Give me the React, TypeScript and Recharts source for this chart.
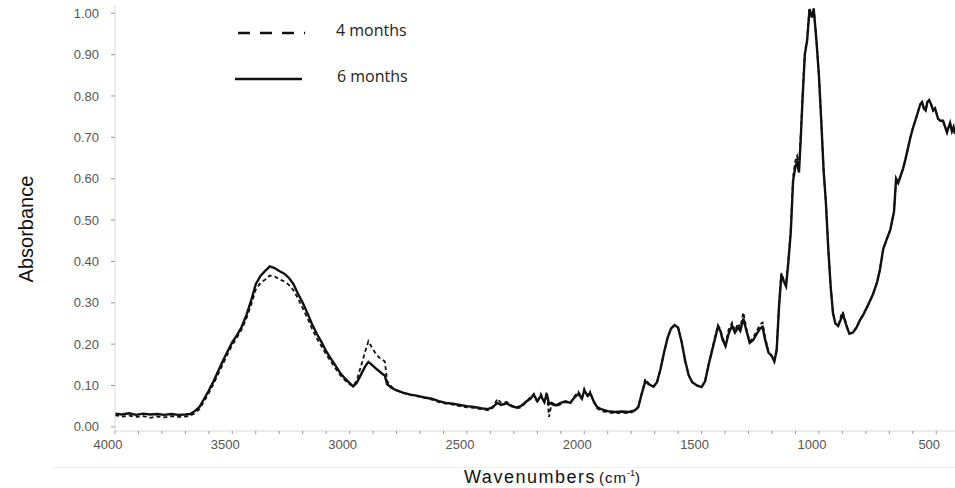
import React from 'react';
import { LineChart, Line, XAxis, YAxis, Label } from 'recharts';

// wavenumbers (cm-1), high to low
const wavenumbers = [
  4000, 3970, 3940, 3910, 3880, 3850, 3820, 3790, 3760, 3730, 3700, 3680, 3660, 3640, 3620, 3600,
  3580, 3560, 3540, 3520, 3500, 3480, 3460, 3440, 3420, 3400, 3380, 3360, 3340, 3320, 3300, 3280,
  3260, 3240, 3220, 3200, 3180, 3160, 3140, 3120, 3100, 3080, 3060, 3040, 3020, 3000, 2985, 2970,
  2950, 2935, 2920, 2905, 2890, 2875, 2860, 2850, 2840, 2820, 2800, 2770, 2740, 2710, 2680, 2650,
  2620, 2590, 2560, 2530, 2500, 2470, 2440, 2410, 2390, 2370, 2355, 2330, 2310, 2290, 2270, 2250,
  2230, 2215, 2200, 2185, 2170, 2160, 2150, 2140, 2120, 2100, 2080, 2060, 2040, 2025, 2010, 2000,
  1985, 1975, 1960, 1945, 1925, 1900, 1870, 1840, 1810, 1785, 1770, 1755, 1740, 1725, 1705, 1690,
  1675, 1660, 1645, 1630, 1615, 1600, 1585, 1570, 1555, 1540, 1520, 1500, 1485, 1470, 1455, 1440,
  1430, 1420, 1410, 1398, 1385, 1370, 1358, 1345, 1335, 1322, 1310, 1295, 1280, 1265, 1250, 1240,
  1230, 1215, 1200, 1190, 1180, 1170, 1160, 1150, 1140, 1130, 1120, 1110, 1100, 1093, 1085, 1078,
  1070, 1060, 1050, 1040, 1030, 1022, 1010, 1000, 990, 980, 970, 960, 950, 940, 930, 918,
  905, 898, 890, 880, 870, 855, 840, 825, 810, 790, 770, 752, 740, 726, 710, 696,
  680, 671, 662, 650, 641, 632, 620, 610, 598, 585, 568, 560, 553, 545, 538, 530,
  522, 513, 505, 492, 482, 471, 462, 454, 447, 441, 433, 426, 420,
];

const sixMonths = [
  0.032, 0.030, 0.033, 0.029, 0.032, 0.030, 0.031, 0.029, 0.031, 0.029, 0.030, 0.031, 0.038, 0.048, 0.068, 0.088,
  0.110, 0.135, 0.160, 0.183, 0.205, 0.222, 0.242, 0.270, 0.305, 0.345, 0.365, 0.377, 0.388, 0.384, 0.377, 0.371,
  0.361, 0.346, 0.322, 0.300, 0.275, 0.248, 0.225, 0.205, 0.183, 0.165, 0.148, 0.130, 0.117, 0.106, 0.098, 0.106,
  0.128, 0.145, 0.157, 0.150, 0.142, 0.135, 0.128, 0.124, 0.103, 0.094, 0.088, 0.082, 0.078, 0.075, 0.071, 0.068,
  0.062, 0.058, 0.056, 0.053, 0.050, 0.048, 0.045, 0.043, 0.048, 0.058, 0.053, 0.057, 0.050, 0.047, 0.050, 0.060,
  0.068, 0.078, 0.062, 0.075, 0.060, 0.080, 0.055, 0.058, 0.052, 0.058, 0.062, 0.058, 0.072, 0.080, 0.068, 0.088,
  0.075, 0.082, 0.062, 0.048, 0.042, 0.038, 0.036, 0.037, 0.036, 0.040, 0.048, 0.080, 0.110, 0.103, 0.097, 0.108,
  0.140, 0.180, 0.215, 0.238, 0.246, 0.240, 0.205, 0.160, 0.125, 0.108, 0.100, 0.096, 0.110, 0.150, 0.185, 0.220,
  0.242, 0.232, 0.210, 0.195, 0.225, 0.245, 0.228, 0.240, 0.232, 0.262, 0.235, 0.203, 0.210, 0.225, 0.238, 0.242,
  0.212, 0.180, 0.170, 0.158, 0.185, 0.290, 0.368, 0.352, 0.340, 0.400, 0.470, 0.595, 0.630, 0.640, 0.615, 0.690,
  0.790, 0.900, 0.935, 1.010, 0.990, 1.010, 0.930, 0.850, 0.740, 0.620, 0.540, 0.430, 0.340, 0.275, 0.250, 0.244,
  0.262, 0.272, 0.258, 0.240, 0.225, 0.228, 0.240, 0.258, 0.272, 0.295, 0.320, 0.350, 0.380, 0.430, 0.455, 0.476,
  0.520, 0.600, 0.590, 0.610, 0.625, 0.645, 0.675, 0.700, 0.725, 0.748, 0.780, 0.785, 0.770, 0.765, 0.785, 0.790,
  0.780, 0.765, 0.770, 0.745, 0.740, 0.740, 0.725, 0.712, 0.725, 0.735, 0.715, 0.725, 0.708,
];

const fourMonths = [
  0.028, 0.025, 0.027, 0.024, 0.026, 0.022, 0.025, 0.023, 0.026, 0.024, 0.025, 0.027, 0.033, 0.043, 0.062, 0.082,
  0.104, 0.128, 0.152, 0.176, 0.198, 0.216, 0.236, 0.262, 0.295, 0.332, 0.348, 0.356, 0.366, 0.364, 0.357, 0.352,
  0.344, 0.331, 0.310, 0.287, 0.263, 0.237, 0.214, 0.195, 0.175, 0.158, 0.141, 0.125, 0.113, 0.103, 0.098, 0.112,
  0.150, 0.180, 0.207, 0.192, 0.178, 0.168, 0.162, 0.158, 0.110, 0.096, 0.089, 0.082, 0.077, 0.074, 0.070, 0.066,
  0.060, 0.056, 0.054, 0.050, 0.047, 0.046, 0.043, 0.040, 0.046, 0.068, 0.058, 0.060, 0.052, 0.045, 0.047, 0.058,
  0.072, 0.080, 0.058, 0.080, 0.062, 0.084, 0.024, 0.055, 0.050, 0.055, 0.060, 0.056, 0.075, 0.085, 0.070, 0.092,
  0.072, 0.085, 0.060, 0.045, 0.038, 0.035, 0.033, 0.034, 0.033, 0.038, 0.048, 0.082, 0.116, 0.105, 0.098, 0.108,
  0.140, 0.180, 0.215, 0.238, 0.246, 0.240, 0.205, 0.160, 0.125, 0.108, 0.100, 0.096, 0.112, 0.152, 0.188, 0.224,
  0.246, 0.236, 0.215, 0.198, 0.235, 0.252, 0.232, 0.250, 0.240, 0.277, 0.240, 0.206, 0.215, 0.232, 0.248, 0.252,
  0.220, 0.182, 0.172, 0.162, 0.190, 0.295, 0.372, 0.355, 0.342, 0.405, 0.478, 0.605, 0.645, 0.655, 0.625, 0.700,
  0.795, 0.905, 0.940, 1.012, 0.992, 1.012, 0.930, 0.850, 0.740, 0.620, 0.540, 0.430, 0.340, 0.275, 0.250, 0.244,
  0.270, 0.278, 0.262, 0.242, 0.226, 0.228, 0.240, 0.258, 0.272, 0.295, 0.320, 0.350, 0.380, 0.430, 0.455, 0.476,
  0.520, 0.600, 0.590, 0.610, 0.625, 0.645, 0.675, 0.700, 0.725, 0.748, 0.780, 0.785, 0.770, 0.765, 0.785, 0.790,
  0.780, 0.765, 0.770, 0.745, 0.740, 0.740, 0.725, 0.712, 0.725, 0.735, 0.715, 0.725, 0.708,
];

const yTicks = [0, 0.1, 0.2, 0.3, 0.4, 0.5, 0.6, 0.7, 0.8, 0.9, 1.0];
// every 100 cm-1, only multiples of 500 get a label
const xTicks = Array.from({ length: 36 }, (_, i) => 500 + i * 100);

const data = wavenumbers.map((wn, i) => ({
  wn,
  six: sixMonths[i],
  four: fourMonths[i],
}));

const axisFont = 'Liberation Sans, Arial, sans-serif';

const XTick = (props: any) => {
  const { x, y, payload } = props;
  if (payload.value % 500 !== 0) return <g />;
  return (
    <text x={x} y={y} dx={-7} dy="0.71em" textAnchor="middle" fill="#555" fontSize={13} fontFamily={axisFont}>
      {payload.value}
    </text>
  );
};

const XTitle = (props: any) => {
  const { viewBox } = props;
  const cx = viewBox.x + viewBox.width / 2 + 17;
  return (
    <text x={cx} y={483} textAnchor="middle" fill="#111" fontFamily={axisFont}>
      <tspan fontSize={18} letterSpacing={1.5}>Wavenumbers</tspan>
      <tspan fontSize={15} dx={3} letterSpacing={1}>(cm</tspan>
      <tspan fontSize={9} dy={-7}>-1</tspan>
      <tspan fontSize={15} dy={7}>)</tspan>
    </text>
  );
};

const YTitle = () => (
  <text
    x={33}
    y={229}
    transform="rotate(-90, 33, 229)"
    textAnchor="middle"
    fontSize={20}
    fill="#111"
    fontFamily={axisFont}
  >
    Absorbance
  </text>
);

export default function App() {
  return (
    <div style={{ position: 'absolute', left: 0, top: 0, width: 955, height: 488, background: '#fff' }}>
      <svg width={955} height={488} style={{ position: 'absolute', left: 0, top: 0 }}>
        <line x1={52} y1={467.5} x2={955} y2={467.5} stroke="#f0f0f0" strokeWidth={1} />
      </svg>
      <LineChart
        width={955}
        height={488}
        data={data}
        margin={{ top: 5, right: 0, bottom: 27, left: 55 }}
      >
        <XAxis
          dataKey="wn"
          type="number"
          domain={[420, 4000]}
          reversed
          ticks={xTicks}
          interval={0}
          tick={<XTick />}
          tickLine={{ stroke: '#999' }}
          tickSize={3}
          tickMargin={6}
          axisLine={{ stroke: '#d9d9d9' }}
          height={30}
        >
          <Label content={<XTitle />} />
        </XAxis>
        <YAxis
          type="number"
          domain={[-0.01, 1.02]}
          ticks={yTicks}
          interval={0}
          tickFormatter={(v: number) => v.toFixed(2)}
          tick={{ fill: '#555', fontSize: 13, fontFamily: axisFont }}
          tickLine={{ stroke: '#999' }}
          tickSize={4}
          tickMargin={12}
          axisLine={{ stroke: '#d9d9d9' }}
          width={60}
          allowDataOverflow
        >
          <Label content={<YTitle />} />
        </YAxis>
        <Line
          type="linear"
          dataKey="four"
          stroke="#111"
          strokeWidth={1.8}
          strokeDasharray="4 3"
          dot={false}
          isAnimationActive={false}
        />
        <Line
          type="linear"
          dataKey="six"
          stroke="#111"
          strokeWidth={2.4}
          dot={false}
          isAnimationActive={false}
        />
      </LineChart>
      <svg width={300} height={100} style={{ position: 'absolute', left: 220, top: 0 }}>
        <line x1={18} y1={33} x2={85} y2={33} stroke="#111" strokeWidth={2.6} strokeDasharray="12 10" />
        <text x={116} y={36} fontSize={16} fontFamily="Open Sans, sans-serif" fill="#222">4 months</text>
        <line x1={15} y1={79} x2={82} y2={79} stroke="#111" strokeWidth={2.6} />
        <text x={117} y={82} fontSize={16} fontFamily="Open Sans, sans-serif" fill="#222">6 months</text>
      </svg>
    </div>
  );
}
